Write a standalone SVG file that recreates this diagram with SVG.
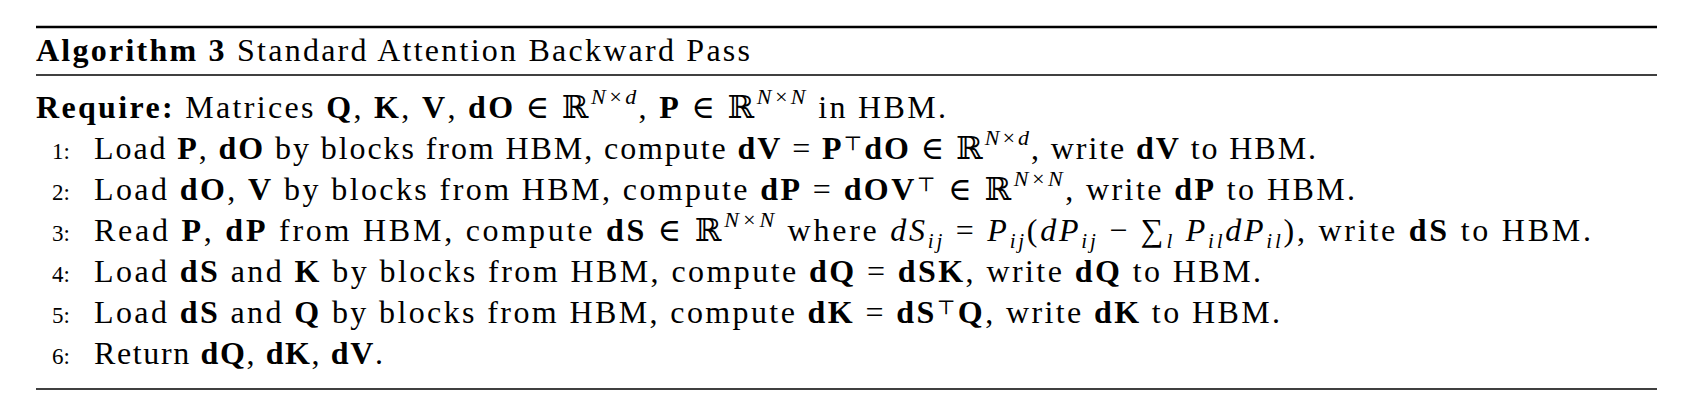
<svg xmlns="http://www.w3.org/2000/svg" width="1700" height="420" viewBox="0 0 1700 420">
<style>
  text { font-family: "Liberation Serif", "DejaVu Serif", serif; font-size: 32px; fill: #000; }
  .b { font-weight: bold; }
  .i { font-style: italic; }
  .sup { font-size: 22px; font-style: italic; }
  .tp { font-size: 20px; }
  .sub { font-size: 21px; font-style: italic; }
  .num { font-size: 23px; text-anchor: end; }
  .rule { stroke: #000; }
</style>
<rect width="1700" height="420" fill="#fff"/>
<g id="rules">
  <line class="rule" x1="36" y1="27" x2="1657" y2="27" stroke-width="2.6"/>
  <line class="rule" x1="36" y1="75" x2="1657" y2="75" stroke-width="1.6"/>
  <line class="rule" x1="36" y1="389" x2="1657" y2="389" stroke-width="1.6"/>
</g>
<g id="title">
  <text x="36" y="61" textLength="714" lengthAdjust="spacing"><tspan class="b">Algorithm 3</tspan> Standard Attention Backward Pass</text>
</g>
<g id="require">
  <text x="36" y="118" textLength="910" lengthAdjust="spacing"><tspan class="b">Require:</tspan> Matrices <tspan class="b">Q</tspan>, <tspan class="b">K</tspan>, <tspan class="b">V</tspan>, <tspan class="b">dO</tspan> ∈ ℝ<tspan class="sup" dy="-14">N×d</tspan><tspan dy="14">, </tspan><tspan class="b">P</tspan> ∈ ℝ<tspan class="sup" dy="-14">N×N</tspan><tspan dy="14"> in HBM.</tspan></text>
</g>
<g id="step1">
  <text class="num" x="70" y="159">1:</text>
  <text x="94" y="159" textLength="1222" lengthAdjust="spacing">Load <tspan class="b">P</tspan>, <tspan class="b">dO</tspan> by blocks from HBM, compute <tspan class="b">dV</tspan> = <tspan class="b">P</tspan><tspan class="tp" dy="-9">⊤</tspan><tspan class="b" dy="9">dO</tspan> ∈ ℝ<tspan class="sup" dy="-14">N×d</tspan><tspan dy="14">, write </tspan><tspan class="b">dV</tspan> to HBM.</text>
</g>
<g id="step2">
  <text class="num" x="70" y="200">2:</text>
  <text x="94" y="200" textLength="1261" lengthAdjust="spacing">Load <tspan class="b">dO</tspan>, <tspan class="b">V</tspan> by blocks from HBM, compute <tspan class="b">dP</tspan> = <tspan class="b">dOV</tspan><tspan class="tp" dy="-9">⊤</tspan><tspan dy="9"> ∈ ℝ</tspan><tspan class="sup" dy="-14">N×N</tspan><tspan dy="14">, write </tspan><tspan class="b">dP</tspan> to HBM.</text>
</g>
<g id="step3">
  <text class="num" x="70" y="241">3:</text>
  <text x="94" y="241" textLength="1497" lengthAdjust="spacing">Read <tspan class="b">P</tspan>, <tspan class="b">dP</tspan> from HBM, compute <tspan class="b">dS</tspan> ∈ ℝ<tspan class="sup" dy="-14">N×N</tspan><tspan dy="14"> where </tspan><tspan class="i">dS</tspan><tspan class="sub" dy="7">ij</tspan><tspan dy="-7"> = </tspan><tspan class="i">P</tspan><tspan class="sub" dy="7">ij</tspan><tspan dy="-7">(</tspan><tspan class="i">dP</tspan><tspan class="sub" dy="7">ij</tspan><tspan dy="-7"> − ∑</tspan><tspan class="sub" dy="7">l</tspan><tspan class="i" dy="-7"> P</tspan><tspan class="sub" dy="7">il</tspan><tspan class="i" dy="-7">dP</tspan><tspan class="sub" dy="7">il</tspan><tspan dy="-7">), write </tspan><tspan class="b">dS</tspan> to HBM.</text>
</g>
<g id="step4">
  <text class="num" x="70" y="282">4:</text>
  <text x="94" y="282" textLength="1167" lengthAdjust="spacing">Load <tspan class="b">dS</tspan> and <tspan class="b">K</tspan> by blocks from HBM, compute <tspan class="b">dQ</tspan> = <tspan class="b">dSK</tspan>, write <tspan class="b">dQ</tspan> to HBM.</text>
</g>
<g id="step5">
  <text class="num" x="70" y="323">5:</text>
  <text x="94" y="323" textLength="1186" lengthAdjust="spacing">Load <tspan class="b">dS</tspan> and <tspan class="b">Q</tspan> by blocks from HBM, compute <tspan class="b">dK</tspan> = <tspan class="b">dS</tspan><tspan class="tp" dy="-9">⊤</tspan><tspan class="b" dy="9">Q</tspan>, write <tspan class="b">dK</tspan> to HBM.</text>
</g>
<g id="step6">
  <text class="num" x="70" y="364">6:</text>
  <text x="94" y="364" textLength="289" lengthAdjust="spacing">Return <tspan class="b">dQ</tspan>, <tspan class="b">dK</tspan>, <tspan class="b">dV</tspan>.</text>
</g>
</svg>
